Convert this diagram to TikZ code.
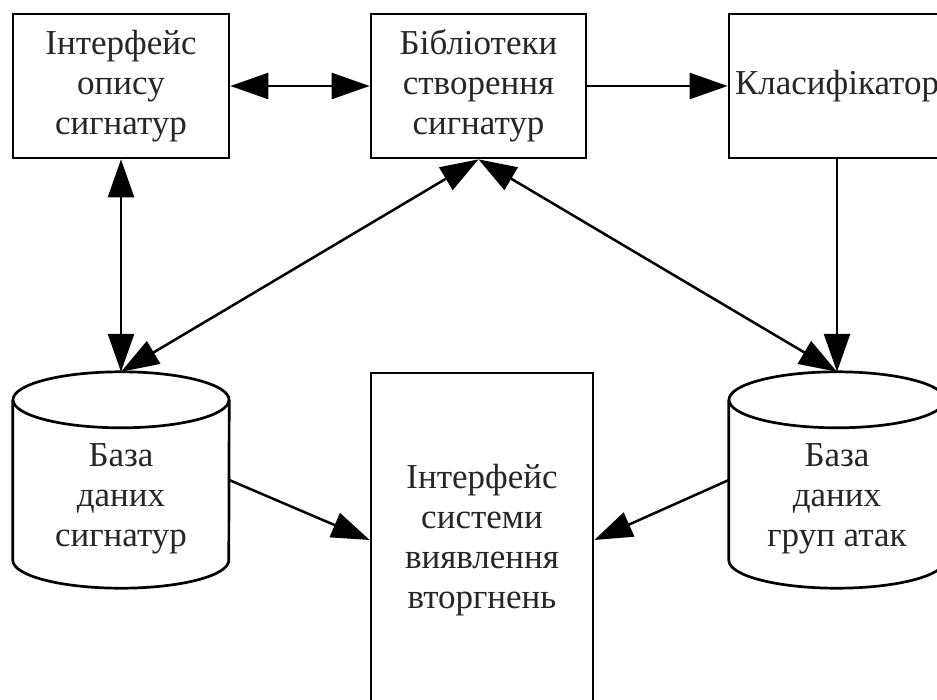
\documentclass[tikz,border=0pt]{standalone}
\usepackage{fontspec}
\setmainfont{Liberation Serif}
\usetikzlibrary{arrows.meta}
\tikzset{
  box/.style={draw, line width=2.7pt, inner sep=0pt, align=center, font=\fontsize{35pt}{40pt}\selectfont, text=black!85},
  shapebox/.style={inner sep=0pt, minimum width=216pt, minimum height=216pt},
  lbl/.style={inner sep=0pt, align=center, font=\fontsize{35pt}{40pt}\selectfont, text=black!85},
  cyl/.style={line width=2.7pt},
  conn/.style={line width=2.5pt, -{Triangle[length=38pt,width=26pt]}},
  bconn/.style={line width=2.5pt, {Triangle[length=38pt,width=26pt]}-{Triangle[length=38pt,width=26pt]}}
}
\begin{document}
\begin{tikzpicture}[x=1pt,y=1pt]
\useasboundingbox (0,0) rectangle (937,-699);
\clip (0,0) rectangle (937,-699);
\fill[white] (0,0) rectangle (937,-699);
% top boxes
\node[box, minimum width=216pt, minimum height=144pt] (b1) at (121,-86) {\raisebox{-4pt}{\parbox{200pt}{\centering Інтерфейс\\опису\\сигнатур}}};
\node[box, minimum width=215pt, minimum height=144pt] (b2) at (478.5,-86) {\raisebox{-4pt}{\parbox{200pt}{\centering Бібліотеки\\створення\\сигнатур}}};
\node[box, minimum width=216pt, minimum height=144pt] (b3) at (837,-86) {\raisebox{-2pt}{Класифікатор}};
% centre box
\node[box, minimum width=222pt, minimum height=334pt] (b4) at (482,-540) {\raisebox{-3pt}{\parbox{210pt}{\centering Інтерфейс\\системи\\виявлення\\вторгнень}}};
% databases
\node[shapebox] (db1) at (121,-480) {};
\node[shapebox] (db2) at (837,-480) {};
\foreach \d in {db1,db2}{
  \draw[cyl] ([yshift=-28pt]\d.north west) -- ([yshift=28pt]\d.south west)
    arc[start angle=180, end angle=360, x radius=108pt, y radius=28pt]
    -- ([yshift=-28pt]\d.north east);
  \draw[cyl] ([yshift=-28pt]\d.north) ellipse [x radius=108pt, y radius=28pt];
}
\node[lbl] (db1t) at (121,-499) {База\\даних\\сигнатур};
\node[lbl] (db2t) at (837,-499) {База\\даних\\груп атак};
% connectors
\draw[bconn] (b1.east) -- (b2.west);
\draw[conn] (b2.east) -- (b3.west);
\draw[bconn] (b1.south) -- (db1.north);
\draw[bconn] (b2.south) -- (db1.north);
\draw[bconn] (b2.south) -- (db2.north);
\draw[conn] (b3.south) -- (db2.north);
\draw[conn] (db1.east) -- (b4.west);
\draw[conn] (db2.west) -- (b4.east);
\end{tikzpicture}
\end{document}
